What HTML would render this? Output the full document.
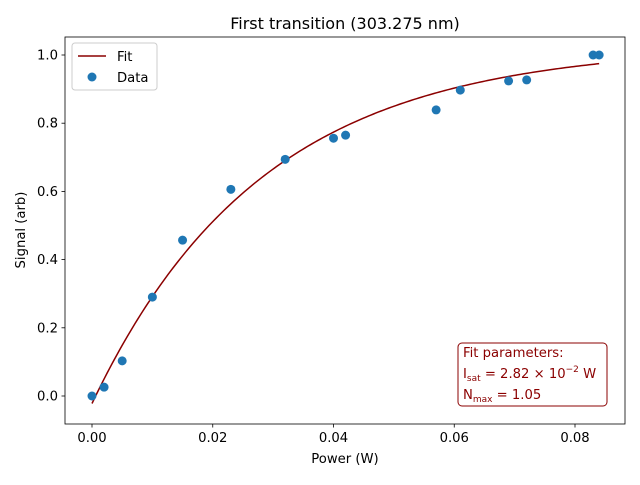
<!DOCTYPE html>
<html><head><meta charset="utf-8"><style>
body{margin:0;background:#fff;font-family:"Liberation Sans","DejaVu Sans",sans-serif}
svg text{font-family:"DejaVu Sans","Liberation Sans",sans-serif}
</style></head><body>
<svg id="chart" width="640" height="480" xmlns="http://www.w3.org/2000/svg"></svg>
<script>
const powerData=[0,0.002,0.005,0.010,0.015,0.023,0.032,0.040,0.042,0.057,0.061,0.069,0.072,0.083,0.084];
const signalData=[0,0.026,0.103,0.290,0.457,0.606,0.694,0.756,0.765,0.839,0.897,0.924,0.927,1.0,1.0];
const fitParams=[1.05,0.0282,-0.022];
const xTicks=[0,0.02,0.04,0.06,0.08];
const xTickLabels=["0.00","0.02","0.04","0.06","0.08"];
const yTicks=[0,0.2,0.4,0.6,0.8,1.0];
const yTickLabels=["0.0","0.2","0.4","0.6","0.8","1.0"];
const NS="http://www.w3.org/2000/svg";
const svg=document.getElementById('chart');
const L=65,R=625,T=37,B=424;
const FS=13.2;
const X=v=>92+v*6037.5;
const Y=v=>396-v*341;
function mk(tag,attrs,parent){const e=document.createElementNS(NS,tag);for(const k in attrs)e.setAttribute(k,attrs[k]);(parent||svg).appendChild(e);return e;}
const frame=mk('rect',{x:L,y:T,width:R-L,height:B-T,fill:'none',stroke:'#000','stroke-width':0.8});


xTicks.forEach((v,i)=>{
 const g=mk('g',{});
 
 
 mk('line',{x1:X(v),x2:X(v),y1:B,y2:B+3.5,stroke:'#000','stroke-width':0.8},g);
 const t=mk('text',{x:X(v),y:B+18,'font-size':FS,'text-anchor':'middle'},g);t.textContent=xTickLabels[i];
});
yTicks.forEach((v,i)=>{
 const g=mk('g',{});
 
 
 mk('line',{x1:L-3.5,x2:L,y1:Y(v),y2:Y(v),stroke:'#000','stroke-width':0.8},g);
 const t=mk('text',{x:L-7,y:Y(v)+4.5,'font-size':FS,'text-anchor':'end'},g);t.textContent=yTickLabels[i];
});
const title=mk('text',{x:345,y:29,'font-size':16,'text-anchor':'middle'});title.textContent='First transition (303.275 nm)';


const xl=mk('text',{x:345,y:463,'font-size':FS,'text-anchor':'middle'});xl.textContent='Power (W)';


const yl=mk('text',{x:25,y:230,'font-size':FS,'text-anchor':'middle',transform:'rotate(-90 25 230)'});yl.textContent='Signal (arb)';


let d='';
const xmax=powerData[powerData.length-1];
for(let i=0;i<=200;i++){const p=xmax*i/200;const s=fitParams[0]*(1-Math.exp(-p/fitParams[1]))+fitParams[2];d+=(i?'L':'M')+X(p).toFixed(2)+','+Y(s).toFixed(2);}
const fit=mk('path',{d:d,fill:'none',stroke:'#8b0000','stroke-width':1.5});


powerData.forEach((p,i)=>{
 const c=mk('circle',{cx:X(p),cy:Y(signalData[i]),r:4.5,fill:'#1f77b4'});
 
 
});
const lg=mk('g',{});


mk('rect',{x:72,y:43,width:85,height:47,rx:3,fill:'#fff','fill-opacity':0.8,stroke:'#ccc'},lg);
mk('line',{x1:78,x2:106,y1:56,y2:56,stroke:'#8b0000','stroke-width':1.5},lg);
const t1=mk('text',{x:117,y:61,'font-size':FS},lg);t1.textContent='Fit';
mk('circle',{cx:92,cy:77,r:4.5,fill:'#1f77b4'},lg);
const t2=mk('text',{x:117,y:82,'font-size':FS},lg);t2.textContent='Data';
const pb=mk('g',{});


mk('rect',{x:458,y:343,width:149,height:63,rx:4,fill:'#fff','fill-opacity':0.8,stroke:'#8b0000'},pb);
const p1=mk('text',{x:463,y:357,'font-size':FS,fill:'#8b0000'},pb);p1.textContent='Fit parameters:';
const p2=mk('text',{x:463,y:378,'font-size':FS,fill:'#8b0000'},pb);
p2.innerHTML='I<tspan font-size="9" dy="3">sat</tspan><tspan dy="-3"> = 2.82 × 10</tspan><tspan font-size="9" dy="-6">−2</tspan><tspan dy="6"> W</tspan>';
const p3=mk('text',{x:463,y:399,'font-size':FS,fill:'#8b0000'},pb);
p3.innerHTML='N<tspan font-size="9" dy="3">max</tspan><tspan dy="-3"> = 1.05</tspan>';
</script>
</body></html>
